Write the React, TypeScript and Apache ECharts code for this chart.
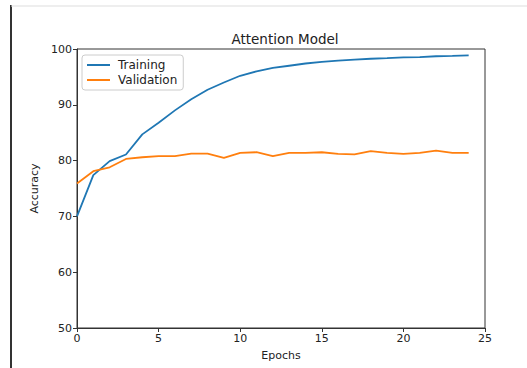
import React, { useEffect, useRef } from "react";
import * as echarts from "echarts";

const epochs = [0, 1, 2, 3, 4, 5, 6, 7, 8, 9, 10, 11, 12, 13, 14, 15, 16, 17, 18, 19, 20, 21, 22, 23, 24];
const training = [70.0, 77.4, 79.9, 81.1, 84.7, 86.8, 89.0, 91.0, 92.7, 94.0, 95.2, 96.0, 96.6, 97.0, 97.4, 97.7, 97.9, 98.1, 98.25, 98.35, 98.5, 98.55, 98.7, 98.75, 98.85];
const validation = [75.9, 78.1, 78.8, 80.3, 80.6, 80.8, 80.8, 81.25, 81.25, 80.5, 81.4, 81.5, 80.8, 81.4, 81.4, 81.5, 81.2, 81.1, 81.7, 81.4, 81.2, 81.4, 81.8, 81.4, 81.4];
const seriesNames = ["Training", "Validation"];
const title = "Attention Model";
const xName = "Epochs";
const yName = "Accuracy";

export default function App() {
  const ref = useRef<HTMLDivElement>(null);
  useEffect(() => {
    if (!ref.current) return;
    const chart = echarts.init(ref.current, undefined, { renderer: "svg" });
    const font = "DejaVu Sans";
    const txt = "#222";
    chart.setOption({
      animation: false,
      backgroundColor: "#fff",
      textStyle: { fontFamily: font },
      title: {
        text: title,
        left: 280,
        textAlign: "center",
        top: 27,
        textStyle: { fontFamily: font, fontSize: 13.5, fontWeight: "normal", color: txt },
      },
      legend: {
        orient: "vertical",
        left: 82,
        top: 55,
        data: seriesNames,
        itemWidth: 23,
        itemHeight: 2,
        itemGap: 3,
        icon: "rect",
        padding: [4, 6, 4, 5],
        borderColor: "#ccc",
        borderWidth: 1,
        borderRadius: 3,
        backgroundColor: "#fff",
        textStyle: { fontFamily: font, fontSize: 12, color: txt, padding: [0, 0, 0, 3] },
      },
      grid: {
        left: 77,
        right: 42,
        top: 49,
        bottom: 40,
        show: true,
        borderColor: "#333",
        borderWidth: 1,
        backgroundColor: "transparent",
      },
      xAxis: {
        type: "value",
        min: 0,
        max: 25,
        interval: 5,
        name: xName,
        nameLocation: "middle",
        nameGap: 22,
        nameTextStyle: { fontFamily: font, fontSize: 11, color: txt },
        axisLine: { show: true, lineStyle: { color: "#333" } },
        axisTick: { show: true, inside: false, length: 4, lineStyle: { color: "#333" } },
        axisLabel: { fontFamily: font, fontSize: 11, color: txt, margin: 5 },
        splitLine: { show: false },
      },
      yAxis: {
        type: "value",
        min: 50,
        max: 100,
        interval: 10,
        name: yName,
        nameLocation: "middle",
        nameGap: 37,
        nameTextStyle: { fontFamily: font, fontSize: 11, color: txt },
        axisLine: { show: true, lineStyle: { color: "#333" } },
        axisTick: { show: true, inside: false, length: 4, lineStyle: { color: "#333" } },
        axisLabel: { fontFamily: font, fontSize: 11, color: txt, margin: 5 },
        splitLine: { show: false },
      },
      series: [
        {
          name: seriesNames[0],
          type: "line",
          data: epochs.map((e, i) => [e, training[i]]),
          showSymbol: false,
          lineStyle: { color: "#1f77b4", width: 1.8 },
          itemStyle: { color: "#1f77b4" },
        },
        {
          name: seriesNames[1],
          type: "line",
          data: epochs.map((e, i) => [e, validation[i]]),
          showSymbol: false,
          lineStyle: { color: "#ff7f0e", width: 1.8 },
          itemStyle: { color: "#ff7f0e" },
        },
      ],
      graphic: [
        { type: "line", shape: { x1: 11, y1: 5, x2: 11, y2: 368 }, style: { stroke: "#333", lineWidth: 2 } },
        { type: "line", shape: { x1: 11, y1: 6, x2: 527, y2: 6 }, style: { stroke: "#ddd", lineWidth: 1 } },
      ],
    });
    return () => chart.dispose();
  }, []);
  return <div ref={ref} style={{ position: "fixed", left: 0, top: 0, width: 527, height: 368 }} />;
}
